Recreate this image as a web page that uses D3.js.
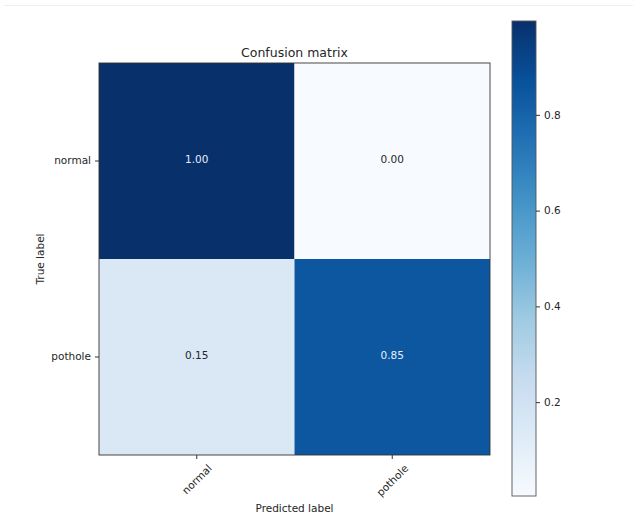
<!DOCTYPE html>
<html>
<head>
<meta charset="utf-8">
<script src="https://cdn.jsdelivr.net/npm/d3@7"></script>
<style>
  html, body { margin: 0; padding: 0; background: #fff; }
  svg { display: block; font-family: "DejaVu Sans", sans-serif; }
</style>
</head>
<body>
<svg id="chart" width="637" height="516"></svg>
<script>
// Normalized confusion matrix (rows = true label, columns = predicted label)
const classes = ["normal", "pothole"];
const normalRow = [0.996, 0.004];
const potholeRow = [0.15, 0.85];
const colorbarTicks = [0.2, 0.4, 0.6, 0.8];

const rows = [normalRow, potholeRow];
const cells = [];
rows.forEach((r, i) => r.forEach((v, j) => cells.push({ row: classes[i], col: classes[j], value: v })));

// Matplotlib "Blues" colormap anchors
const bluesStops = ["#f7fbff", "#deebf7", "#c6dbef", "#9ecae1", "#6baed6", "#4292c6", "#2171b5", "#08519c", "#08306b"];

const svg = d3.select("#chart");

// faint frame line across the top of the figure
svg.append("line").attr("x1", 4).attr("x2", 633).attr("y1", 5.5).attr("y2", 5.5)
  .attr("stroke", "#eeeeee").attr("stroke-width", 1);

const plot = { left: 99, right: 490, top: 63, bottom: 455 };
const cbar = { left: 512, right: 536, top: 21, bottom: 496 };

const vmin = d3.min(cells, d => d.value), vmax = d3.max(cells, d => d.value);
const cmap = d3.scaleLinear()
  .domain(d3.range(bluesStops.length).map(i => vmin + (vmax - vmin) * i / (bluesStops.length - 1)))
  .range(bluesStops)
  .interpolate(d3.interpolateRgb);

const x = d3.scaleBand().domain(classes).range([plot.left, plot.right]);
const y = d3.scaleBand().domain(classes).range([plot.top, plot.bottom]);

// heatmap cells
svg.append("g").selectAll("rect").data(cells).join("rect")
  .attr("x", d => x(d.col)).attr("y", d => y(d.row))
  .attr("width", x.bandwidth()).attr("height", y.bandwidth())
  .attr("fill", d => cmap(d.value));

// cell annotations
const thresh = vmax / 2;
svg.append("g").selectAll("text").data(cells).join("text")
  .attr("x", d => x(d.col) + x.bandwidth() / 2)
  .attr("y", d => y(d.row) + y.bandwidth() / 2 - 2)
  .attr("text-anchor", "middle").attr("dominant-baseline", "central")
  .attr("font-size", "10.5px")
  .attr("fill", d => d.value > thresh ? "#e4eefa" : "#262626")
  .text(d => d3.format(".2f")(d.value));

// frame
svg.append("rect").attr("x", plot.left).attr("y", plot.top)
  .attr("width", plot.right - plot.left).attr("height", plot.bottom - plot.top)
  .attr("fill", "none").attr("stroke", "#333").attr("stroke-width", 0.9);

// y axis
const yAxis = svg.append("g").attr("transform", `translate(${plot.left},0)`)
  .call(d3.axisLeft(y).tickSize(4).tickPadding(4));
yAxis.select(".domain").remove();
yAxis.selectAll("line").attr("stroke", "#333");
yAxis.selectAll("text").attr("font-size", "10.5px").attr("fill", "#262626")
  .attr("font-family", "DejaVu Sans, sans-serif");

// x axis with 45-degree labels
const xAxis = svg.append("g").attr("transform", `translate(0,${plot.bottom})`)
  .call(d3.axisBottom(x).tickSize(4));
xAxis.select(".domain").remove();
xAxis.selectAll("line").attr("stroke", "#333");
xAxis.selectAll("text").attr("font-size", "10.5px").attr("fill", "#262626")
  .attr("font-family", "DejaVu Sans, sans-serif")
  .attr("text-anchor", "middle").attr("dominant-baseline", "central")
  .attr("dy", null)
  .each(function () {
    const w = this.getComputedTextLength();
    const h = 10.5;
    const top = 7.5;
    const cy = top + (w + h) / (2 * Math.SQRT2);
    d3.select(this).attr("y", 0).attr("transform", `translate(0,${cy}) rotate(-45)`);
  });

// title and axis labels
svg.append("text").attr("x", (plot.left + plot.right) / 2).attr("y", plot.top - 6)
  .attr("text-anchor", "middle").attr("font-size", "12.5px").attr("fill", "#262626")
  .text("Confusion matrix");
svg.append("text").attr("x", (plot.left + plot.right) / 2).attr("y", 512)
  .attr("text-anchor", "middle").attr("font-size", "10.5px").attr("fill", "#262626")
  .text("Predicted label");
svg.append("text").attr("transform", `translate(44,${(plot.top + plot.bottom) / 2}) rotate(-90)`)
  .attr("text-anchor", "middle").attr("font-size", "10.5px").attr("fill", "#262626")
  .text("True label");

// colorbar
const cy = d3.scaleLinear().domain([vmin, vmax]).range([cbar.bottom, cbar.top]);
const grad = svg.append("defs").append("linearGradient").attr("id", "cbarGrad")
  .attr("x1", 0).attr("x2", 0).attr("y1", 1).attr("y2", 0);
d3.range(0, 1.0001, 0.02).forEach(t => {
  grad.append("stop").attr("offset", t).attr("stop-color", cmap(vmin + t * (vmax - vmin)));
});
svg.append("rect").attr("x", cbar.left).attr("y", cbar.top)
  .attr("width", cbar.right - cbar.left).attr("height", cbar.bottom - cbar.top)
  .attr("fill", "url(#cbarGrad)").attr("stroke", "#555").attr("stroke-width", 0.9);
const cAxis = svg.append("g").attr("transform", `translate(${cbar.right},0)`)
  .call(d3.axisRight(cy).tickValues(colorbarTicks).tickFormat(d3.format(".1f")).tickSize(4).tickPadding(4));
cAxis.select(".domain").remove();
cAxis.selectAll("line").attr("stroke", "#333");
cAxis.selectAll("text").attr("font-size", "10.5px").attr("fill", "#262626")
  .attr("font-family", "DejaVu Sans, sans-serif");
</script>
</body>
</html>
